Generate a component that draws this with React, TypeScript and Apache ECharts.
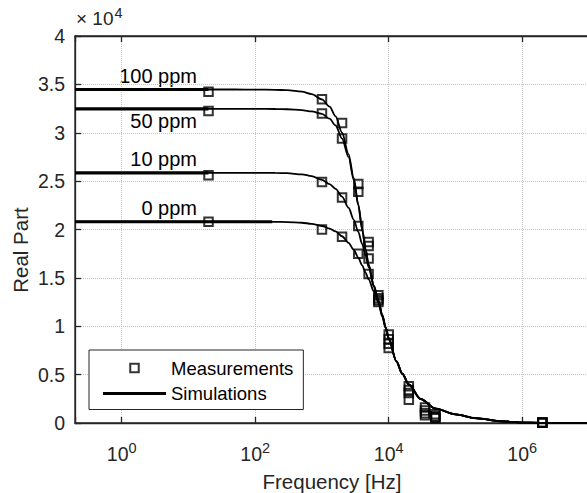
import React, { useEffect, useRef } from "react";
import * as echarts from "echarts";

const FONT = "'Liberation Sans', Arial, Helvetica, sans-serif";

// axis extents (Hz) and ticks
const xMin = 0.2;
const xMax = 1e7;
const xTickExponents = [0, 2, 4, 6];
const yMin = 0;
const yMax = 40000;
const yStep = 5000;
const yScale = 1e4;

const ppmLabels = ["100 ppm", "50 ppm", "10 ppm", "0 ppm"];

// measurements
const measFreq = [20, 1000, 2000, 3500, 5000, 7000, 10000, 20000, 35000, 50000, 2000000];
const meas100 = [34230, 33470, 31000, 24700, 18700, 13200, 9150, 3800, 1600, 900, 50];
const meas50 = [32260, 32000, 29400, 23900, 18300, 12900, 8650, 3400, 1300, 700, 40];
const meas10 = [25620, 24900, 23300, 20350, 17000, 12700, 8200, 3100, 1000, 600, 30];
const meas0 = [20800, 20000, 19250, 17500, 15400, 12500, 7750, 2400, 800, 500, 20];

// simulations
const simFreq = [0.2, 1, 10, 50, 100, 200, 300, 500, 700, 1000, 1300, 1600, 2000, 2500, 3000, 3500, 4000, 4500, 5000, 6000, 7000, 8000, 9000, 10000, 13000, 16000, 20000, 30000, 50000, 100000, 200000, 500000, 1000000, 2000000, 10000000];
const sim100 = [34470, 34470, 34470, 34470, 34460, 34440, 34400, 34250, 34000, 33450, 32700, 31700, 30000, 27800, 25300, 22600, 20100, 18000, 16400, 14200, 12700, 11200, 9900, 8800, 6400, 5100, 4000, 2500, 1500, 900, 500, 180, 50, 15, 0];
const sim50 = [32470, 32470, 32470, 32470, 32465, 32455, 32430, 32330, 32200, 31950, 31450, 30750, 29400, 27500, 25100, 22500, 20000, 17950, 16350, 14150, 12650, 11150, 9880, 8780, 6390, 5090, 3990, 2490, 1495, 898, 498, 178, 49, 15, 0];
const sim10 = [25860, 25860, 25860, 25860, 25855, 25845, 25820, 25700, 25520, 25120, 24700, 24200, 23400, 22250, 21000, 19750, 18500, 17300, 16100, 14100, 12600, 11100, 9850, 8750, 6380, 5080, 3980, 2480, 1490, 895, 495, 175, 48, 14, 0];
const sim0 = [20800, 20800, 20800, 20800, 20798, 20790, 20770, 20700, 20590, 20360, 20100, 19800, 19300, 18620, 17900, 17100, 16300, 15550, 14850, 13600, 12450, 11000, 9800, 8700, 6370, 5070, 3970, 2470, 1485, 890, 490, 172, 47, 14, 0];
// frequency up to which the low-frequency plateau is drawn heavier
const thickEnd = [20, 20, 20, 180];

const simSets = [sim100, sim50, sim10, sim0];
const measSets = [meas100, meas50, meas10, meas0];

const lg = (f: number) => Math.log10(f);
const pairs = (fs: number[], vs: number[]) => fs.map((f, i) => [lg(f), vs[i]]);

const AX = "#262626";

export default function App() {
  const ref = useRef<HTMLDivElement>(null);
  useEffect(() => {
    if (!ref.current) return;
    const chart = echarts.init(ref.current, undefined, { renderer: "svg" });
    const axisLine = { show: true, onZero: false, lineStyle: { color: AX, width: 1.3 } };
    const axisTick = { show: true, inside: true, length: 6, lineStyle: { color: AX, width: 1.3 } };
    const splitLine = { show: true, lineStyle: { color: "#c4c4c4", type: "dotted", width: 1 } };
    const xLabelFormatter = (v: number) => {
      const r = Math.round(v);
      return Math.abs(v - r) < 1e-6 && xTickExponents.includes(r) ? `{b|10}{s|${r}}` : "";
    };
    const option: any = {
      animation: false,
      backgroundColor: "#fff",
      grid: {
        left: 75,
        top: 36,
        right: -2,
        bottom: 70,
        containLabel: false,
        outerBoundsMode: "none",
        show: true,
        borderColor: AX,
        borderWidth: 1.3,
        backgroundColor: "transparent",
      },
      xAxis: [
        {
          type: "value",
          min: lg(xMin),
          max: lg(xMax),
          splitNumber: 4,
          position: "bottom",
          name: "Frequency [Hz]",
          nameLocation: "middle",
          nameGap: 48,
          nameTextStyle: { fontSize: 20.5, color: AX, fontFamily: FONT },
          axisLine,
          axisTick,
          splitLine,
          axisLabel: {
            margin: 17,
            formatter: xLabelFormatter,
            rich: {
              b: { fontSize: 19.5, color: AX, fontFamily: FONT, verticalAlign: "bottom" },
              s: { fontSize: 14.5, color: AX, fontFamily: FONT, verticalAlign: "bottom", padding: [0, 0, 9, 0] },
            },
          },
        },
        {
          type: "value",
          min: lg(xMin),
          max: lg(xMax),
          splitNumber: 4,
          position: "top",
          axisLine,
          axisTick,
          axisLabel: { show: false },
          splitLine: { show: false },
        },
      ],
      yAxis: {
        type: "value",
        min: yMin,
        max: yMax,
        interval: yStep,
        axisLine,
        axisTick,
        splitLine,
        axisLabel: {
          formatter: (v: number) => String(v / yScale),
          fontSize: 19.5,
          color: AX,
          fontFamily: FONT,
          margin: 10,
        },
      },
      legend: {
        data: [
          { name: "Measurements", icon: "path://M0,0L10,0L10,10L0,10Z" },
          { name: "Simulations", itemStyle: { color: "rgba(0,0,0,0)", borderColor: "rgba(0,0,0,0)", borderWidth: 0 } },
        ],
        orient: "vertical",
        left: 89,
        top: 350,
        itemWidth: 63,
        itemHeight: 8.5,
        itemGap: 6.5,
        padding: [8.5, 10, 6.5, 12.5],
        backgroundColor: "#fff",
        borderColor: AX,
        borderWidth: 1,
        selectedMode: false,
        symbolKeepAspect: true,
        lineStyle: { width: 3 },
        textStyle: { fontSize: 18.5, color: "#000", fontFamily: FONT },
      },
      graphic: [
        {
          type: "text",
          left: 76,
          top: 5,
          silent: true,
          style: {
            text: "{a|× 10}{s|4}",
            fill: AX,
            fontFamily: FONT,
            rich: {
              a: { fontSize: 19, fill: AX, fontFamily: FONT, verticalAlign: "bottom" },
              s: { fontSize: 14.5, fill: AX, fontFamily: FONT, verticalAlign: "bottom", padding: [0, 0, 8, 1] },
            },
          },
        },
        {
          type: "text",
          x: 20,
          y: 250,
          rotation: Math.PI / 2,
          silent: true,
          style: { text: "Real Part", fontSize: 20.5, fill: AX, fontFamily: FONT, align: "center", verticalAlign: "middle" },
        },
        ...ppmLabels.map((t, i) => ({
          type: "text",
          x: 197,
          y: [75.5, 120.5, 158.8, 207.5][i],
          silent: true,
          style: { text: t, fontSize: 20, fill: "#000", fontFamily: FONT, align: "right", verticalAlign: "middle" },
        })),
      ],
      series: [
        ...simSets.map((s) => ({
          type: "line",
          name: "Simulations",
          data: pairs(simFreq, s),
          symbol: "none",
          showSymbol: false,
          smooth: 0.3,
          smoothMonotone: "x",
          lineStyle: { color: "#000", width: 1.8 },
          itemStyle: { color: "#000" },
          z: 2,
        })),
        ...simSets.map((s, i) => ({
          type: "line",
          name: "Simulations",
          data: [
            [lg(simFreq[0]), s[0]],
            [lg(thickEnd[i]), s[0]],
          ],
          symbol: "none",
          showSymbol: false,
          lineStyle: { color: "#000", width: 3.2 },
          itemStyle: { color: "#000" },
          z: 2,
        })),
        ...measSets.map((m) => ({
          type: "scatter",
          name: "Measurements",
          data: pairs(measFreq, m),
          symbol: "rect",
          symbolSize: 8.5,
          itemStyle: { color: "rgba(255,255,255,0)", borderColor: "#000", borderWidth: 2 },
          z: 3,
        })),
      ],
    };
    chart.setOption(option);
    return () => chart.dispose();
  }, []);
  return <div ref={ref} style={{ position: "absolute", left: 0, top: 0, width: 587, height: 493 }} />;
}
